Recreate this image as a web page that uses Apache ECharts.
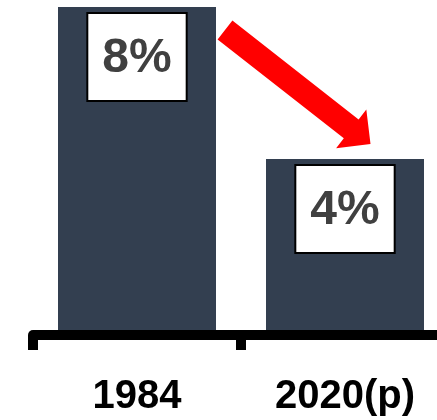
<!DOCTYPE html>
<html>
<head>
<meta charset="utf-8">
<script src="https://cdn.jsdelivr.net/npm/echarts@6/dist/echarts.min.js"></script>
<style>
  html, body { margin: 0; padding: 0; background: #ffffff; }
  #chart { width: 437px; height: 420px; }
</style>
</head>
<body>
<div id="chart"></div>
<script>
// Share of the total, two reference years
const categories = ['1984', '2020(p)'];
const shareValues = [8, 4];
const shareLabels = ['8%', '4%'];

const chart = echarts.init(document.getElementById('chart'), null, { renderer: 'canvas' });

chart.setOption({
  animation: false,
  grid: { left: 33, right: -12, top: 7, bottom: 90, outerBoundsMode: 'none', containLabel: false },
  xAxis: {
    type: 'category',
    data: categories,
    offset: 5,
    z: 1,
    axisLine: { onZero: false, lineStyle: { color: '#000000', width: 10 } },
    axisTick: { show: true, length: 15, lineStyle: { color: '#000000', width: 10 } },
    axisLabel: {
      margin: 42,
      color: '#000000',
      fontFamily: 'Liberation Sans',
      fontWeight: 'bold',
      fontSize: 40
    }
  },
  yAxis: {
    type: 'value',
    min: -0.5,
    max: 8,
    startValue: -0.5,
    show: false,
    splitLine: { show: false }
  },
  series: [{
    type: 'bar',
    data: shareValues,
    barWidth: 158,
    itemStyle: { color: '#333F50' },
    label: {
      show: true,
      position: 'insideTop',
      distance: 7,
      formatter: (p) => shareLabels[p.dataIndex],
      color: '#404040',
      fontFamily: 'Liberation Sans',
      fontWeight: 'bold',
      fontSize: 48,
      lineHeight: 56,
      backgroundColor: '#ffffff',
      borderColor: '#000000',
      borderWidth: 2,
      padding: [17, 14, 13, 14]
    }
  }]
});

// Red arrow from the first bar's top down to the second bar
function arrowPoints(tail, tip, shaftHalf, headHalf, headLen) {
  const dx = tip[0] - tail[0], dy = tip[1] - tail[1];
  const len = Math.hypot(dx, dy);
  const ux = dx / len, uy = dy / len;
  const nx = -uy, ny = ux;
  const base = [tip[0] - ux * headLen, tip[1] - uy * headLen];
  return [
    [tail[0] + nx * shaftHalf, tail[1] + ny * shaftHalf],
    [base[0] + nx * shaftHalf, base[1] + ny * shaftHalf],
    [base[0] + nx * headHalf, base[1] + ny * headHalf],
    tip,
    [base[0] - nx * headHalf, base[1] - ny * headHalf],
    [base[0] - nx * shaftHalf, base[1] - ny * shaftHalf],
    [tail[0] - nx * shaftHalf, tail[1] - ny * shaftHalf]
  ];
}

const top1 = chart.convertToPixel({ seriesIndex: 0 }, [0, shareValues[0]]);
const top2 = chart.convertToPixel({ seriesIndex: 0 }, [1, shareValues[1]]);
const tail = [top1[0] + 88, top1[1] + 23];
const tip = [top2[0] + 25.5, top2[1] - 15];

chart.setOption({
  graphic: [{
    type: 'polygon',
    z: 100,
    shape: { points: arrowPoints(tail, tip, 12, 24.5, 24.5) },
    style: { fill: '#FF0000' }
  }]
});
</script>
</body>
</html>
